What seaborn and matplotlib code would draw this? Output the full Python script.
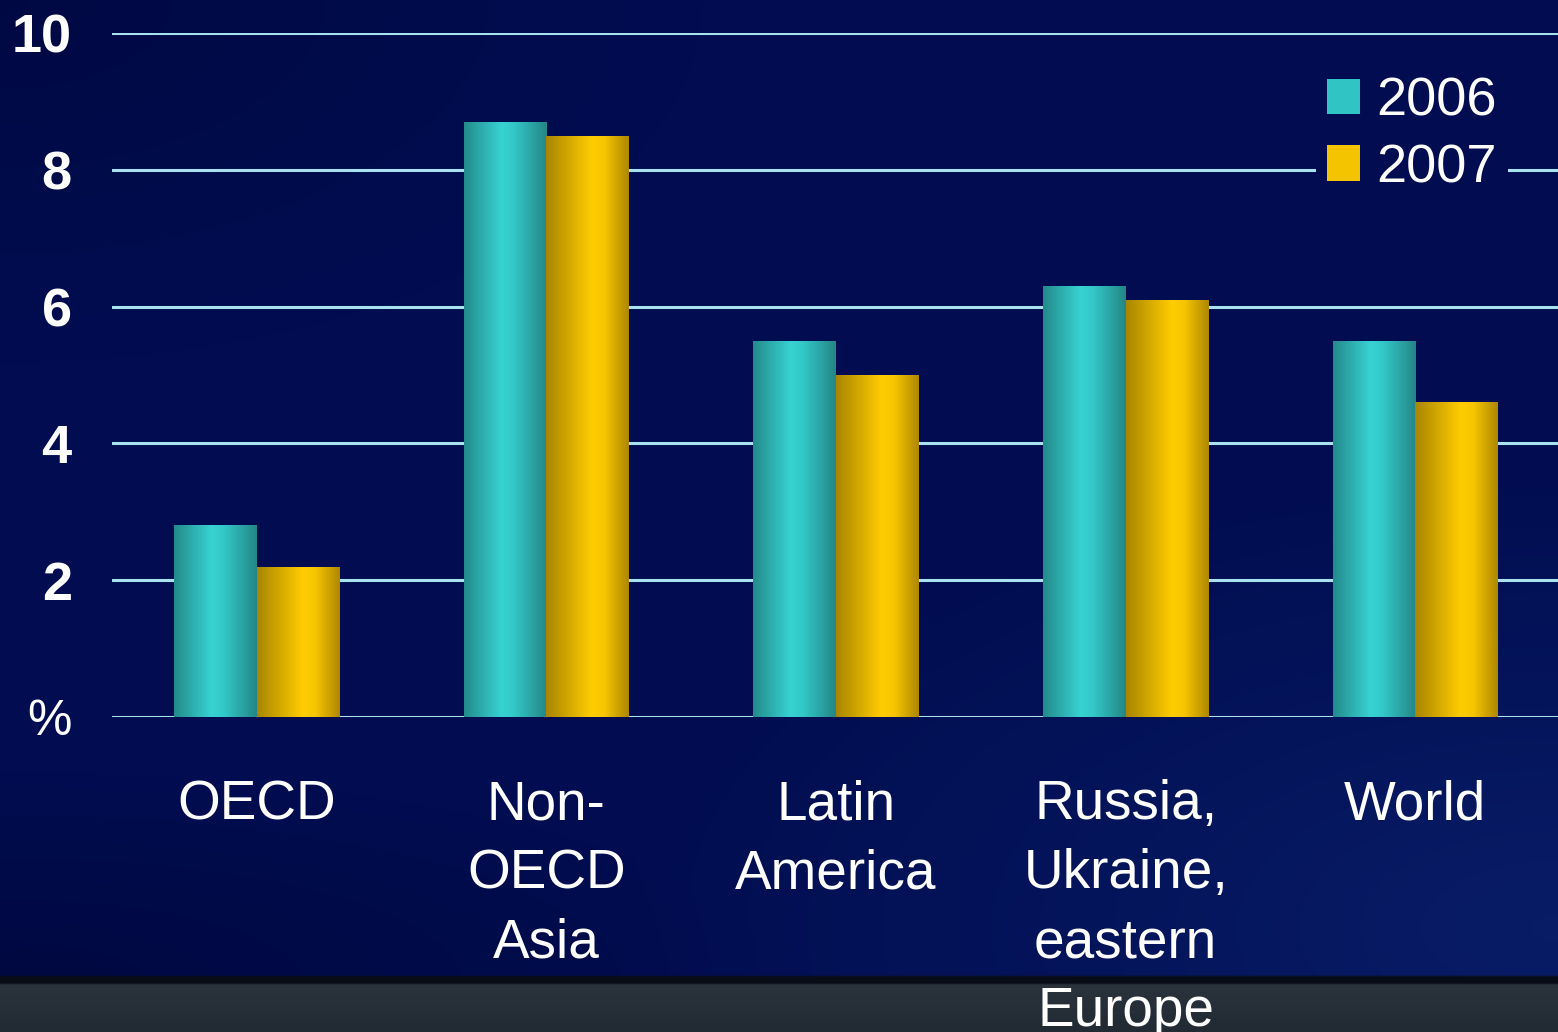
import numpy as np
import pandas as pd
import matplotlib
matplotlib.use("Agg")
import matplotlib.pyplot as plt
from matplotlib.colors import LinearSegmentedColormap, to_hex
import seaborn as sns

regions = ["OECD", "Non-\nOECD\nAsia", "Latin\nAmerica", "Russia,\nUkraine,\neastern\nEurope", "World"]
years = ["2006", "2007"]
values_2006 = [2.8, 8.7, 5.5, 6.3, 5.5]
values_2007 = [2.2, 8.5, 5.0, 6.1, 4.6]
ytick_vals = [0, 2, 4, 6, 8, 10]
ytick_labels = ["%", "2", "4", "6", "8", "10"]

df = pd.DataFrame({
    "region": regions * 2,
    "value": values_2006 + values_2007,
    "year": [years[0]] * len(regions) + [years[1]] * len(regions),
})

sns.set_theme(style="white")
plt.rcParams["font.family"] = ["Liberation Sans", "DejaVu Sans"]

W, H = 1558, 1032
fig = plt.figure(figsize=(W / 100, H / 100), dpi=100)

# background
NY, NX = 516, 779
bg = fig.add_axes([0, 0, 1, 1], zorder=-10)
bg.set_axis_off()
yy, xx = np.mgrid[0:1:NY * 1j, 0:1:NX * 1j]
base = np.array([0x01, 0x0d, 0x50]) / 255
dark = np.array([0x00, 0x06, 0x3a]) / 255
bright = np.array([0x0a, 0x20, 0x6c]) / 255
w_dark_tl = np.clip(1 - np.hypot(xx / 0.45, yy / 0.35), 0, 1) ** 1.2 * 0.6
w_dark_bl = np.clip(1 - np.hypot(xx / 0.5, (yy - 0.95) / 0.2), 0, 1) * 0.7
w_bright = np.clip(1 - np.hypot((xx - 1.0) / 0.6, (yy - 0.9) / 0.45), 0, 1) * 0.8
wd = np.clip(w_dark_tl + w_dark_bl, 0, 1)[..., None]
wb = w_bright[..., None]
img = base * (1 - wd) + dark * wd
img = img * (1 - wb) + bright * wb
band_dark = int(NY * 977 / H)
band_start = int(NY * 985 / H)
img[band_dark:band_start] = np.array([0x08, 0x0c, 0x16]) / 255
gy = np.linspace(0, 1, NY - band_start)[:, None, None]
img[band_start:] = (np.array([0x2a, 0x33, 0x3c]) / 255) * (1 - gy) + (np.array([0x22, 0x2b, 0x34]) / 255) * gy
bg.imshow(img, extent=[0, 1, 0, 1], aspect="auto", origin="upper", interpolation="bilinear")
bg.set_xlim(0, 1)
bg.set_ylim(0, 1)

ax = fig.add_axes([112 / W, (H - 717) / H, (1560 - 112) / W, (717 - 33) / H])
ax.patch.set_alpha(0)

teal = "#30c4c4"
gold = "#f5c400"
sns.barplot(data=df, x="region", y="value", hue="year", palette=[teal, gold],
            width=0.57, ax=ax, saturation=1, legend=True, zorder=2)

ax.set_ylim(0, 10)
ax.set_xlim(-0.5, 4.5)

cmap_teal = LinearSegmentedColormap.from_list("t", [(0, "#238a8a"), (0.45, "#38d2d2"), (0.6, "#33c8c8"), (1, "#248686")])
cmap_gold = LinearSegmentedColormap.from_list("g", [(0, "#a88500"), (0.55, "#ffcc00"), (0.7, "#f8c600"), (1, "#ad8700")])
grad = np.linspace(0, 1, 256)[None, :]
bars = [p for p in ax.patches if p.get_height() > 0]
for p in bars:
    fc = p.get_facecolor()
    p.set_linewidth(0)
    p.set_edgecolor("none")
    cm = cmap_teal if fc[2] > 0.5 else cmap_gold
    x0, w, h = p.get_x(), p.get_width(), p.get_height()
    im = ax.imshow(grad, cmap=cm, extent=[x0, x0 + w, 0, h], aspect="auto", zorder=3)
    im.set_clip_path(p)
ax.set_xlim(-0.5, 4.5)
ax.set_ylim(0, 10)

ax.set_yticks(ytick_vals)
ax.set_yticklabels(ytick_labels)
ax.yaxis.grid(True, color="#a8e2ee", linewidth=2.2)
ax.xaxis.grid(False)
ax.set_axisbelow(True)
for sp in ax.spines.values():
    sp.set_visible(False)
ax.tick_params(axis="both", length=0)
ax.tick_params(axis="y", pad=29, labelsize=39, labelcolor="white")
ax.tick_params(axis="x", pad=45, labelsize=39.5, labelcolor="white")
for lab in ax.get_yticklabels():
    lab.set_fontweight("bold")
ax.get_yticklabels()[0].set_fontweight("normal")
ax.get_yticklabels()[0].set_fontsize(36)
for lab in ax.get_xticklabels():
    lab.set_linespacing(1.42)
ax.set_xlabel("")
ax.set_ylabel("")

leg_bg = to_hex(img[int(NY * 130 / H), int(NX * 1410 / W)])
leg = ax.legend(loc="upper right", bbox_to_anchor=(1508 / W, 1 - 66 / H),
                bbox_transform=fig.transFigure, fontsize=39, frameon=True,
                handlelength=0.62, handleheight=0.62, handletextpad=0.3,
                labelspacing=0.3, borderpad=0.2, borderaxespad=0)
leg.get_frame().set_facecolor(leg_bg)
leg.get_frame().set_edgecolor("none")
leg.get_frame().set_alpha(1)
for txt in leg.get_texts():
    txt.set_color("white")
for hnd in leg.legend_handles:
    hnd.set_linewidth(0)

fig.savefig("out.png", dpi=100)
